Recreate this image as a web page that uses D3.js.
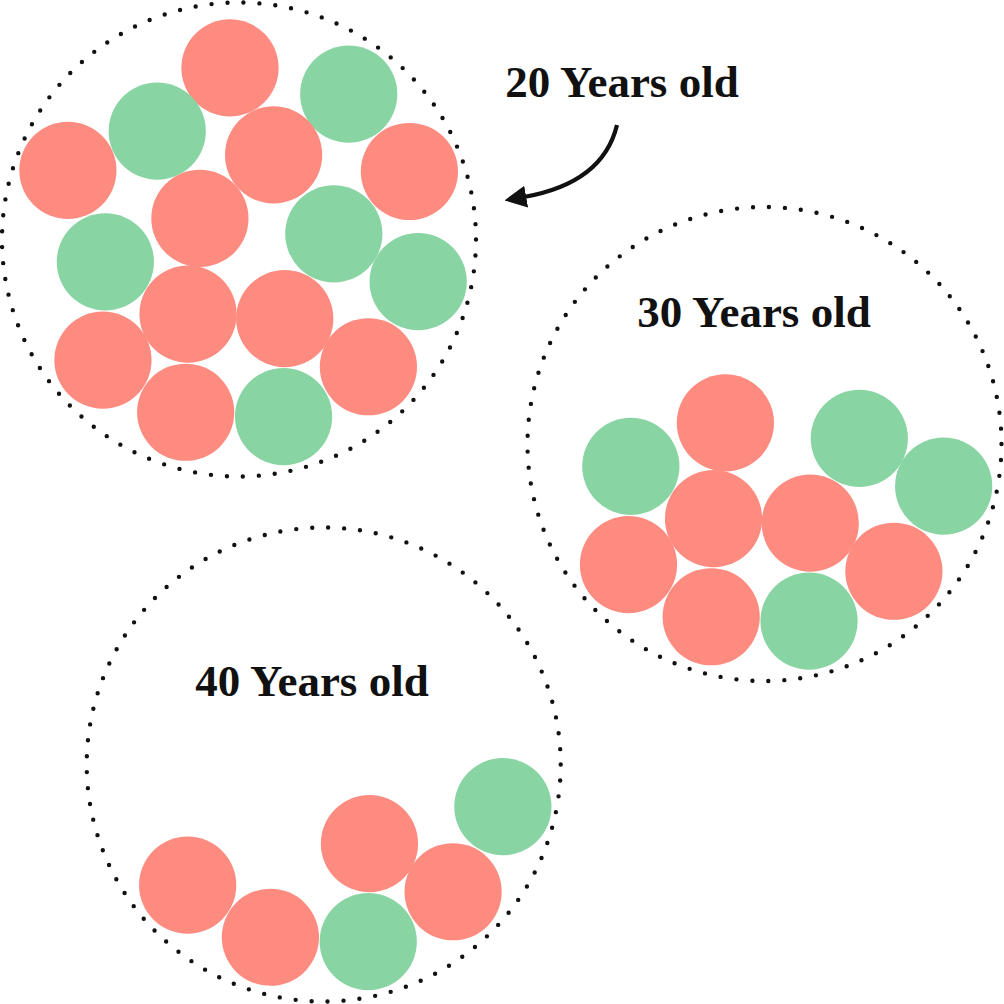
<!DOCTYPE html>
<html>
<head>
<meta charset="utf-8">
<script src="https://cdn.jsdelivr.net/npm/d3@7"></script>
<style>
  html, body { margin: 0; padding: 0; background: #fff; }
  svg { display: block; }
</style>
</head>
<body>
<div id="my_dataviz"></div>
<script>
// the data: 16 people, their colour group and where they sit in the bubble
// (x / y in percent of the bubble radius, 0 = centre)
var categories = ["A", "B"];
var personCategory = ["A", "B", "B", "A", "A", "A", "A", "B", "B", "B", "A", "A", "A", "A", "A", "B"];
var personX = [-3.8, 46.3, -34.5, -72.2, 14.6, 71.9, -16.5, 40.0, -56.4, 75.6, -21.5, 19.3, -57.4, 54.6, -22.5, 18.8];
var personY = [-72.4, -61.3, -45.7, -29.2, -35.7, -28.7, -8.9, -2.4, 9.4, 17.8, 31.5, 33.4, 50.9, 53.7, 72.9, 74.7];

// the age groups and who is still there
var groupLabels = ["20 Years old", "30 Years old", "40 Years old"];
var groupMembers = [
  [0, 1, 2, 3, 4, 5, 6, 7, 8, 9, 10, 11, 12, 13, 14, 15],
  [6, 7, 8, 9, 10, 11, 12, 13, 14, 15],
  [9, 11, 12, 13, 14, 15]
];

// layout
var width = 1004,
  height = 1004,
  bubbleRadius = 237,
  nodeRadius = 48.6;

var bubbles = [
  { cx: 239, cy: 239.5, labelX: 622, labelY: 97 },
  { cx: 764.5, cy: 444, labelX: 754, labelY: 327 },
  { cx: 323.7, cy: 764.5, labelX: 312, labelY: 696 }
];

var color = d3.scaleOrdinal()
  .domain(categories)
  .range(["#fd8b7f", "#89d4a3"]);

// percent of radius -> pixels inside a bubble
var x = d3.scaleLinear().domain([-100, 100]).range([-bubbleRadius, bubbleRadius]);
var y = d3.scaleLinear().domain([-100, 100]).range([-bubbleRadius, bubbleRadius]);

var svg = d3.select("#my_dataviz")
  .append("svg")
  .attr("width", width)
  .attr("height", height);

svg.append("defs")
  .append("marker")
  .attr("id", "arrowhead")
  .attr("viewBox", "0 -10 20 20")
  .attr("refX", 2)
  .attr("refY", 0)
  .attr("markerWidth", 22)
  .attr("markerHeight", 22)
  .attr("markerUnits", "userSpaceOnUse")
  .attr("orient", "auto")
  .append("path")
  .attr("d", "M0,-10 L20,0 L0,10 Z")
  .attr("fill", "#111");

var groups = svg.selectAll("g.bubble")
  .data(groupLabels)
  .enter()
  .append("g")
  .attr("class", "bubble")
  .attr("transform", function(d, i) {
    return "translate(" + bubbles[i].cx + "," + bubbles[i].cy + ")";
  });

// dotted outline
groups.append("circle")
  .attr("r", bubbleRadius)
  .attr("fill", "none")
  .attr("stroke", "#111")
  .attr("stroke-width", 4.4)
  .attr("stroke-linecap", "round")
  .attr("stroke-dasharray", "0 " + (2 * Math.PI * bubbleRadius / 93));

// people
groups.selectAll("circle.person")
  .data(function(d, i) { return groupMembers[i]; })
  .enter()
  .append("circle")
  .attr("class", "person")
  .attr("cx", function(id) { return x(personX[id]); })
  .attr("cy", function(id) { return y(personY[id]); })
  .attr("r", nodeRadius)
  .attr("fill", function(id) { return color(personCategory[id]); });

// labels
svg.selectAll("text.label")
  .data(groupLabels)
  .enter()
  .append("text")
  .attr("class", "label")
  .attr("x", function(d, i) { return bubbles[i].labelX; })
  .attr("y", function(d, i) { return bubbles[i].labelY; })
  .attr("text-anchor", "middle")
  .attr("font-family", "'Liberation Serif', 'DejaVu Serif', serif")
  .attr("font-weight", "bold")
  .attr("font-size", "45px")
  .attr("fill", "#111")
  .text(function(d) { return d; });

// arrow from the first label to its bubble
svg.append("path")
  .attr("d", "M617,125 Q603,183 524,197")
  .attr("fill", "none")
  .attr("stroke", "#111")
  .attr("stroke-width", 4.2)
  .attr("marker-end", "url(#arrowhead)");
</script>
</body>
</html>
